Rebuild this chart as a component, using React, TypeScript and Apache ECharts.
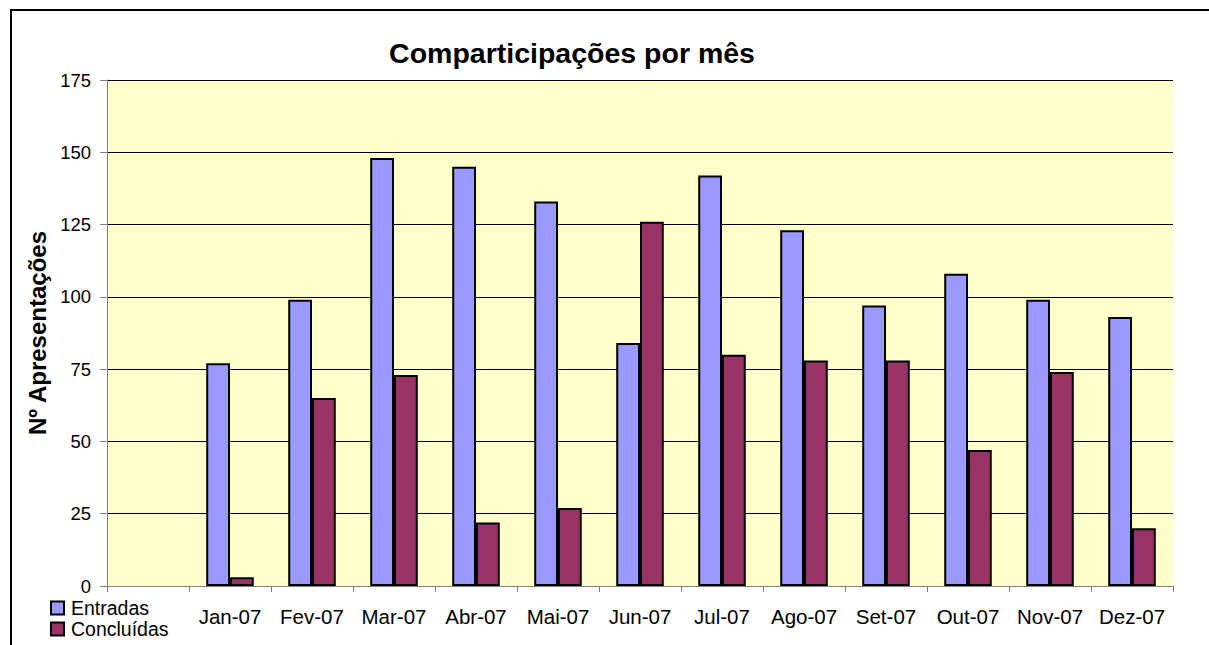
import React, { useEffect, useRef } from "react";
import * as echarts from "echarts";

const categories = ["", "Jan-07", "Fev-07", "Mar-07", "Abr-07", "Mai-07", "Jun-07", "Jul-07", "Ago-07", "Set-07", "Out-07", "Nov-07", "Dez-07"];
const entradas = [null, 77, 99, 148, 145, 133, 84, 142, 123, 97, 108, 99, 93];
const concluidas = [null, 3, 65, 73, 22, 27, 126, 80, 78, 78, 47, 74, 20];
const seriesNames = ["Entradas", "Concluídas"];
const titleText = "Comparticipações por mês";
const yAxisName = "Nº Apresentações";

const FONT = "'Liberation Sans', Arial, sans-serif";

export default function App() {
  const ref = useRef<HTMLDivElement>(null);
  useEffect(() => {
    document.body.style.margin = "0";
    const chart = echarts.init(ref.current!, null, { renderer: "svg" });
    const legendBase = {
      orient: "vertical",
      left: 50,
      padding: 0,
      itemWidth: 13,
      itemHeight: 13,
      icon: "rect",
      textStyle: { fontSize: 19.5, color: "#000", fontFamily: FONT, padding: [0, 0, 0, 2] },
    };
    chart.setOption({
      animation: false,
      backgroundColor: "#ffffff",
      textStyle: { fontFamily: FONT },
      graphic: [
        {
          type: "rect",
          shape: { x: 11, y: 10, width: 1400, height: 800 },
          style: { fill: "none", stroke: "#000", lineWidth: 2 },
          silent: true,
        },
        {
          type: "text",
          x: 572,
          y: 53,
          style: {
            text: titleText,
            font: `bold 28.5px ${FONT}`,
            fill: "#000",
            align: "center",
            verticalAlign: "middle",
          },
        },
      ],
      legend: [
        { ...legendBase, top: 598, data: [seriesNames[0]] },
        { ...legendBase, top: 619, data: [seriesNames[1]] },
      ],
      grid: {
        left: 107,
        right: 36,
        top: 80,
        bottom: 59,
        show: true,
        backgroundColor: "#FFFFCC",
        borderWidth: 0,
      },
      xAxis: {
        type: "category",
        data: categories,
        axisLine: { lineStyle: { color: "#808080", width: 1 } },
        axisTick: { show: true, length: 6, lineStyle: { color: "#808080" } },
        axisLabel: { fontSize: 20.5, color: "#000", margin: 20, fontFamily: FONT, interval: 0 },
      },
      yAxis: {
        type: "value",
        min: 0,
        max: 175,
        interval: 25,
        name: yAxisName,
        nameLocation: "middle",
        nameGap: 50,
        nameTextStyle: { fontSize: 24, fontWeight: "bold", color: "#000", fontFamily: FONT },
        axisLine: { show: true, lineStyle: { color: "#808080", width: 1 } },
        axisTick: { show: true, length: 7, lineStyle: { color: "#808080" } },
        axisLabel: { fontSize: 18.5, color: "#000", margin: 16, fontFamily: FONT },
        splitLine: { show: true, lineStyle: { color: "#000", width: 1 } },
      },
      series: [
        {
          name: seriesNames[0],
          type: "bar",
          data: entradas,
          barGap: "0%",
          barCategoryGap: "42%",
          itemStyle: { color: "#9999FF", borderColor: "#000", borderWidth: 2 },
        },
        {
          name: seriesNames[1],
          type: "bar",
          data: concluidas,
          barGap: "0%",
          barCategoryGap: "42%",
          itemStyle: { color: "#993366", borderColor: "#000", borderWidth: 2 },
        },
      ],
    });
    return () => chart.dispose();
  }, []);
  return <div ref={ref} style={{ position: "fixed", left: 0, top: 0, width: 1209, height: 645 }} />;
}
